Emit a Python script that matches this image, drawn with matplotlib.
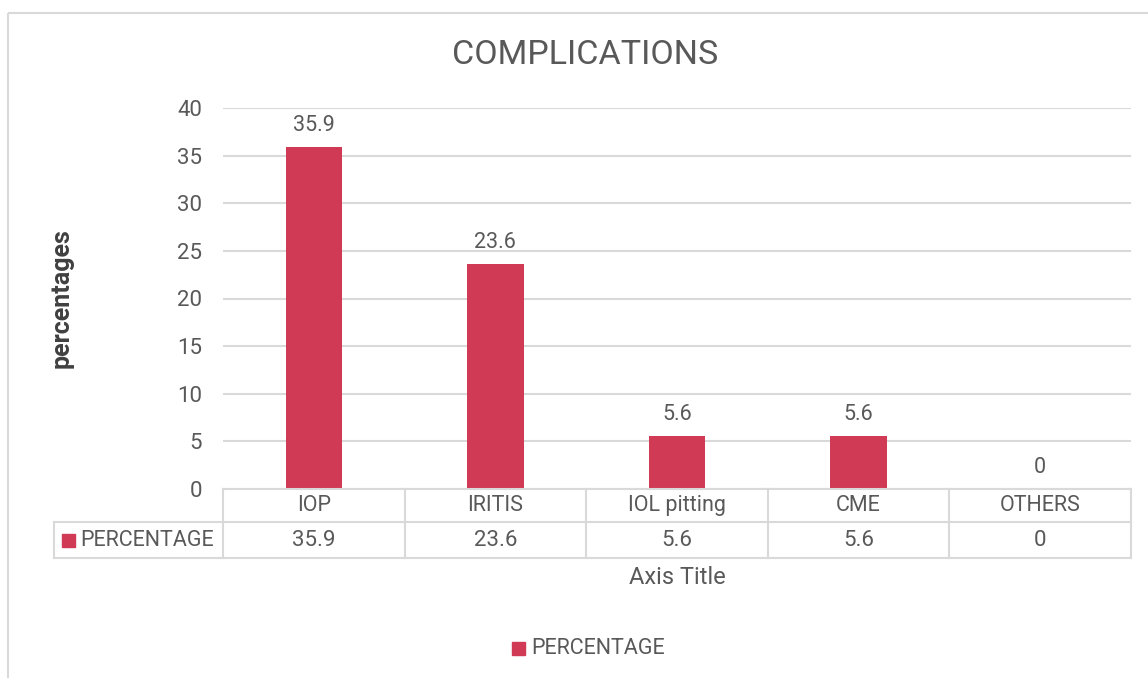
import matplotlib.pyplot as plt
from matplotlib.patches import Rectangle
from matplotlib.lines import Line2D
import matplotlib.transforms as mtransforms

categories = ["IOP", "IRITIS", "IOL pitting", "CME", "OTHERS"]
percentage = [35.9, 23.6, 5.6, 5.6, 0]
series_name = "PERCENTAGE"
yticks = [0, 5, 10, 15, 20, 25, 30, 35, 40]

bar_color = "#D03A55"
text_color = "#595959"
line_color = "#D9D9D9"

plt.rcParams['font.family'] = ['Roboto', 'DejaVu Sans']

W, H = 1148, 678
fig = plt.figure(figsize=(W / 100, H / 100), dpi=100)

# chart frame
fig.patches.append(Rectangle((8 / W, 1 - 13 / H), 1.2, -1.2, transform=fig.transFigure,
                             fill=False, edgecolor=line_color, linewidth=1.5))

x0, x1, ytop, ybot = 223, 1131, 108, 489
ax = fig.add_axes([x0 / W, 1 - ybot / H, (x1 - x0) / W, (ybot - ytop) / H])

xs = range(len(categories))
ax.bar(xs, percentage, width=0.31, color=bar_color, zorder=3)
for x, v in zip(xs, percentage):
    ax.annotate(f"{v:g}", (x, v), xytext=(0, 8), textcoords="offset points",
                ha="center", va="bottom", fontsize=15.5, color=text_color)

ax.set_xlim(-0.5, len(categories) - 0.5)
ax.set_ylim(0, 40)
ax.set_yticks(yticks)
ax.set_xticks([])
ax.yaxis.grid(True, color=line_color, linewidth=1.5, zorder=0)
ax.tick_params(axis="y", length=0, pad=15, labelsize=16, labelcolor=text_color)
for s in ax.spines.values():
    s.set_visible(False)

# data table under the axis
trans = mtransforms.blended_transform_factory(ax.transData, fig.transFigure)
row_top, row_mid, row_bot = 1 - 489 / H, 1 - 522 / H, 1 - 558 / H
left_edge = -0.5 - (x0 - 54) / ((x1 - x0) / len(categories))

def hline(xa, xb, y):
    fig.add_artist(Line2D([xa, xb], [y, y], transform=trans, color=line_color, linewidth=1.5))

def vline(x, ya, yb):
    fig.add_artist(Line2D([x, x], [ya, yb], transform=trans, color=line_color, linewidth=1.5))

hline(-0.5, len(categories) - 0.5, row_top)
hline(left_edge, len(categories) - 0.5, row_mid)
hline(left_edge, len(categories) - 0.5, row_bot)
for i in range(len(categories) + 1):
    vline(i - 0.5, row_top, row_bot)
vline(left_edge, row_mid, row_bot)

for x, c, v in zip(xs, categories, percentage):
    fig.text(x, (row_top + row_mid) / 2, c, transform=trans, ha="center", va="center",
             fontsize=15.5, color=text_color)
    fig.text(x, (row_mid + row_bot) / 2, f"{v:g}", transform=trans, ha="center", va="center",
             fontsize=16, color=text_color)

fig.add_artist(Rectangle((62 / W, 1 - 547 / H), 13 / W, 13 / H, transform=fig.transFigure,
                         color=bar_color))
fig.text(80 / W, 1 - 540 / H, series_name, ha="left", va="center", fontsize=15.5, color=text_color)

# titles
fig.text(585 / W, 1 - 55 / H, "COMPLICATIONS", ha="center", va="center", fontsize=24.5, color=text_color)
fig.text(62 / W, 1 - 298 / H, "percentages", ha="center", va="center", rotation=90,
         fontsize=18, fontweight="bold", color="#404040")
fig.text(677 / W, 1 - 578 / H, "Axis Title", ha="center", va="center", fontsize=17, color=text_color)

# legend
fig.add_artist(Rectangle((512 / W, 1 - 655 / H), 13 / W, 13 / H, transform=fig.transFigure,
                         color=bar_color))
fig.text(531 / W, 1 - 648 / H, series_name, ha="left", va="center", fontsize=15.5, color=text_color)

fig.savefig("out.png", dpi=100)
